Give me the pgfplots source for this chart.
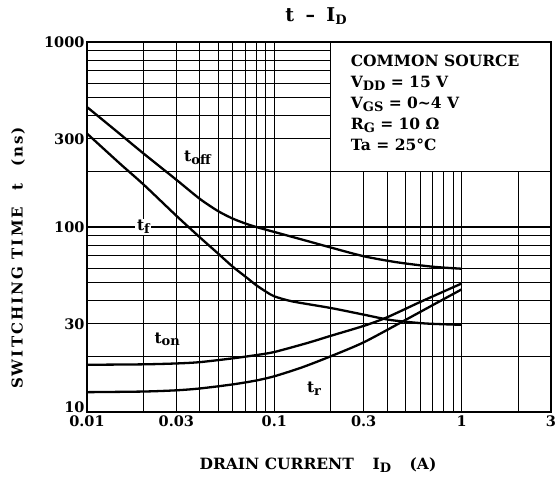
\documentclass[border=0pt]{standalone}
\usepackage{fontspec}
\setmainfont{DejaVu Serif}
\usepackage{pgfplots}
\pgfplotsset{compat=1.18}
\newcommand\sub[1]{\raisebox{-0.35ex}{\fontsize{13}{13}\selectfont #1}}
\begin{document}
\begin{tikzpicture}[x=1pt,y=1pt]
\path[use as bounding box] (-87,-70) rectangle (472,412);
\begin{axis}[
  at={(0,0)}, anchor=south west,
  scale only axis, width=464pt, height=370pt,
  xmode=log, ymode=log,
  xmin=0.01, xmax=3, ymin=10, ymax=1000,
  xtick={0.01,0.1,1}, xticklabels={0.01,0.1,1},
  extra x ticks={0.03,0.3,3}, extra x tick labels={0.03,0.3,3},
  minor xtick={0.02,0.04,0.05,0.06,0.07,0.08,0.09,0.2,0.4,0.5,0.6,0.7,0.8,0.9,2},
  ytick={10,100,1000}, yticklabels={\raisebox{9pt}{10},100,1000},
  extra y ticks={30,300}, extra y tick labels={30,300},
  minor ytick={20,40,50,60,70,80,90,200,400,500,600,700,800,900},
  grid=both,
  major grid style={black, line width=1.1pt},
  minor grid style={black, line width=0.75pt},
  extra tick style={grid style={black, line width=0.75pt}},
  major tick length=0pt, minor tick length=0pt,
  axis line style={line width=1.4pt},
  ticklabel style={font=\bfseries\fontsize{14.5}{15}\selectfont},
  yticklabel style={xshift=1pt},
  /pgf/number format/assume math mode=true,
  clip=false,
]
% t_off
\addplot[black, line width=2.3pt, smooth, tension=0.45] coordinates {
 (0.01,445) (0.015,318) (0.02,250) (0.03,180) (0.04,142) (0.05,122) (0.06,111) (0.07,104.5) (0.08,100) (0.1,94) (0.15,84) (0.2,77.5) (0.3,69.5) (0.45,64.5) (0.7,61) (1,59.5)};
% t_f
\addplot[black, line width=2.3pt, smooth, tension=0.45] coordinates {
 (0.01,320) (0.015,220) (0.02,170) (0.03,115) (0.04,88) (0.05,72) (0.06,61) (0.07,54) (0.08,48.5) (0.09,44.8) (0.1,42.2) (0.125,39.6) (0.2,36.5) (0.3,33.6) (0.42,31.4) (0.64,30.1) (1,29.6)};
% t_on
\addplot[black, line width=2.3pt, smooth, tension=0.45] coordinates {
 (0.01,18) (0.02,18.1) (0.03,18.3) (0.04,18.6) (0.06,19.5) (0.08,20.3) (0.1,21.1) (0.15,23.6) (0.2,25.8) (0.3,29.2) (0.4,32.5) (0.6,39.3) (1,49.5)};
% t_r
\addplot[black, line width=2.3pt, smooth, tension=0.45] coordinates {
 (0.01,12.8) (0.02,12.9) (0.03,13.1) (0.04,13.4) (0.06,14.1) (0.08,14.8) (0.1,15.6) (0.14,17.4) (0.2,20) (0.3,23.8) (0.48,30.7) (0.7,37.8) (1,46)};
\fill[white] (axis cs:0.2,200) rectangle (axis cs:3,1000);
\draw[line width=1pt] (axis cs:0.2,1000) -- (axis cs:0.2,200) -- (axis cs:3,200);
\draw[line width=1.4pt] (axis cs:0.01,1000) rectangle (axis cs:3,10);
\node[anchor=north west, align=left, font=\bfseries\fontsize{15.5}{21}\selectfont, inner sep=0pt]
  at ([xshift=20pt,yshift=-13pt]axis cs:0.2,1000)
  {COMMON SOURCE\\V\sub{DD} = 15 V\\V\sub{GS} = 0\textasciitilde 4 V\\R\sub{G} = 10 Ω\\Ta = 25°C};
\node[font=\bfseries\fontsize{15.5}{15}\selectfont] at (axis cs:0.0389,237) {t\sub{off}};
\node[font=\bfseries\fontsize{15.5}{15}\selectfont, fill=white, inner sep=1.5pt] at (axis cs:0.02,100) {t\sub{f}};
\node[font=\bfseries\fontsize{15.5}{15}\selectfont] at (axis cs:0.0268,24.7) {t\sub{on}};
\node[font=\bfseries\fontsize{15.5}{15}\selectfont] at (axis cs:0.163,13.3) {t\sub{r}};
\end{axis}
\node[font=\bfseries\fontsize{19}{19}\selectfont] at (229,396) {t\hspace{0.6em}–\hspace{0.6em}I\sub{D}};
\node[font=\bfseries\fontsize{15}{15}\selectfont\addfontfeature{LetterSpace=14}, rotate=90] at (-69,154) {SWITCHING TIME\hspace{1.1em}t\hspace{1.1em}(ns)};
\node[font=\bfseries\fontsize{15.5}{15}\selectfont] at (231,-53) {DRAIN CURRENT\hspace{1.2em}I\sub{D}\hspace{1.2em}(A)};
\end{tikzpicture}
\end{document}
